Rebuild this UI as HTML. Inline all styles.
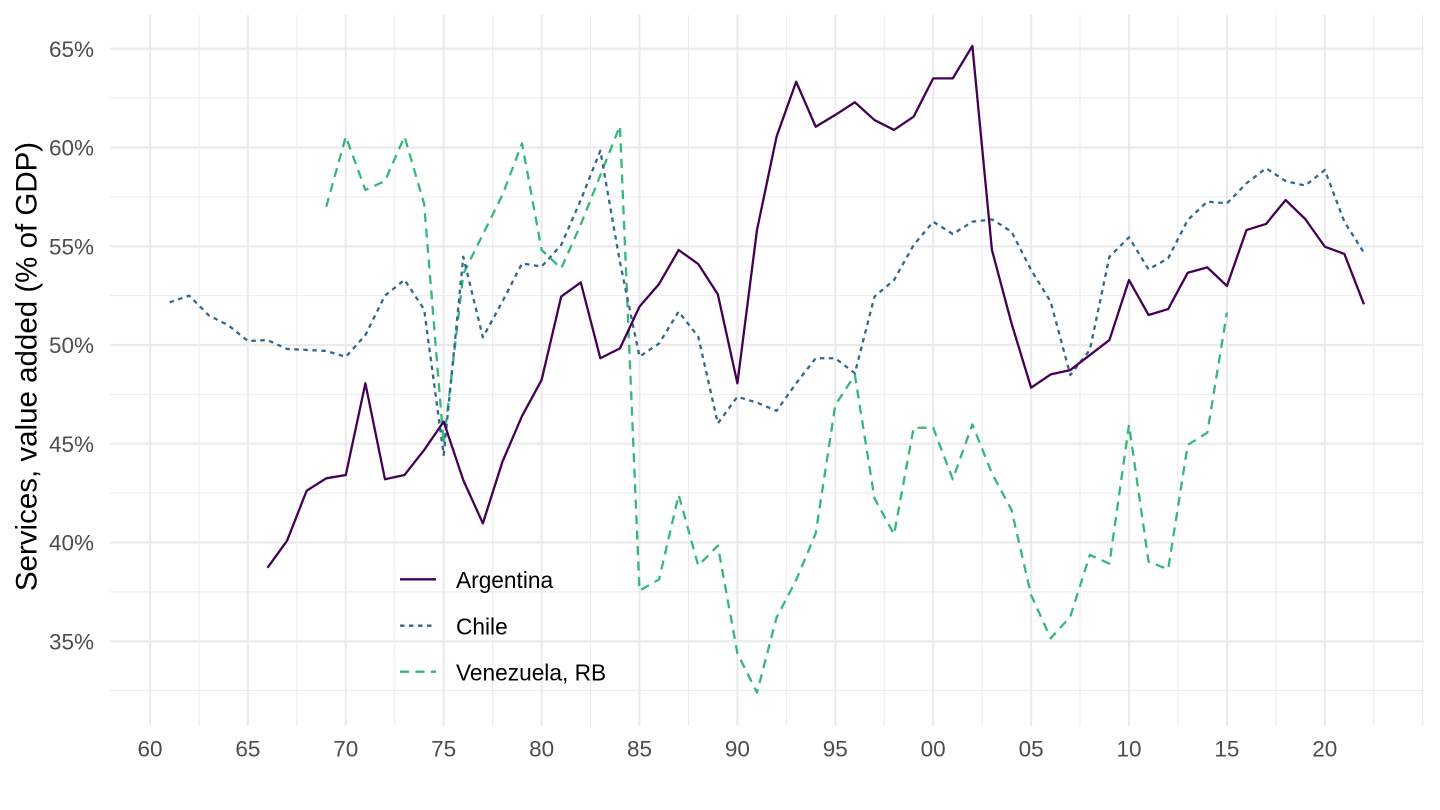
<!DOCTYPE html>
<html>
<head>
<meta charset="utf-8">
<style>
html,body{margin:0;padding:0;background:#fff;}
svg{display:block;}
text{font-family:"Liberation Sans",Arial,sans-serif;}
</style>
</head>
<body>
<svg width="1440" height="810" viewBox="0 0 1440 810" xmlns="http://www.w3.org/2000/svg">
<rect width="1440" height="810" fill="#fff"/>
<!-- minor gridlines -->
<g stroke="#EBEBEB" stroke-width="1.07" fill="none">
<line x1="110" x2="1424" y1="97.9" y2="97.9"/>
<line x1="110" x2="1424" y1="196.9" y2="196.9"/>
<line x1="110" x2="1424" y1="295.6" y2="295.6"/>
<line x1="110" x2="1424" y1="394.4" y2="394.4"/>
<line x1="110" x2="1424" y1="493.1" y2="493.1"/>
<line x1="110" x2="1424" y1="591.9" y2="591.9"/>
<line x1="110" x2="1424" y1="690.6" y2="690.6"/>
<line y1="15" y2="726" x1="198.95" x2="198.95"/>
<line y1="15" y2="726" x1="296.85" x2="296.85"/>
<line y1="15" y2="726" x1="394.75" x2="394.75"/>
<line y1="15" y2="726" x1="492.65" x2="492.65"/>
<line y1="15" y2="726" x1="590.55" x2="590.55"/>
<line y1="15" y2="726" x1="688.45" x2="688.45"/>
<line y1="15" y2="726" x1="786.35" x2="786.35"/>
<line y1="15" y2="726" x1="884.25" x2="884.25"/>
<line y1="15" y2="726" x1="982.15" x2="982.15"/>
<line y1="15" y2="726" x1="1080.05" x2="1080.05"/>
<line y1="15" y2="726" x1="1177.95" x2="1177.95"/>
<line y1="15" y2="726" x1="1275.85" x2="1275.85"/>
<line y1="15" y2="726" x1="1373.75" x2="1373.75"/>
<line y1="15" y2="726" x1="1422.7" x2="1422.7"/>
</g>
<!-- major gridlines -->
<g stroke="#EBEBEB" stroke-width="2.13" fill="none">
<line x1="110" x2="1424" y1="48.75" y2="48.75"/>
<line x1="110" x2="1424" y1="147.5" y2="147.5"/>
<line x1="110" x2="1424" y1="246.25" y2="246.25"/>
<line x1="110" x2="1424" y1="345" y2="345"/>
<line x1="110" x2="1424" y1="443.75" y2="443.75"/>
<line x1="110" x2="1424" y1="542.5" y2="542.5"/>
<line x1="110" x2="1424" y1="641.25" y2="641.25"/>
<line y1="15" y2="726" x1="150" x2="150"/>
<line y1="15" y2="726" x1="247.9" x2="247.9"/>
<line y1="15" y2="726" x1="345.8" x2="345.8"/>
<line y1="15" y2="726" x1="443.7" x2="443.7"/>
<line y1="15" y2="726" x1="541.6" x2="541.6"/>
<line y1="15" y2="726" x1="639.5" x2="639.5"/>
<line y1="15" y2="726" x1="737.4" x2="737.4"/>
<line y1="15" y2="726" x1="835.3" x2="835.3"/>
<line y1="15" y2="726" x1="933.2" x2="933.2"/>
<line y1="15" y2="726" x1="1031.1" x2="1031.1"/>
<line y1="15" y2="726" x1="1129" x2="1129"/>
<line y1="15" y2="726" x1="1226.9" x2="1226.9"/>
<line y1="15" y2="726" x1="1324.8" x2="1324.8"/>
</g>

<!-- Venezuela -->
<polyline fill="none" stroke="#35B779" stroke-width="2.3" stroke-linejoin="round" stroke-dasharray="9 6.5" points="326.22,206.75 345.80,136.64 365.38,189.96 384.96,181.07 404.54,136.64 424.12,203.79 443.70,443.75 463.28,273.9 482.86,234.4 502.44,194.9 522.02,143.35 541.60,250.0 561.18,268.37 580.76,224.52 600.34,175.15 619.92,125.97 639.50,590.69 659.08,579.43 678.66,494.9 698.24,565.61 717.82,545.66 737.40,653.3 756.98,692.6 776.56,617.55 796.14,580.02 815.72,533.41 835.30,405.04 854.88,375.02 874.46,498.26 894.04,534.4 913.62,427.75 933.20,427.75 952.78,479.3 972.36,424.4 991.94,473.37 1011.52,509.91 1031.10,595.03 1050.68,638.29 1070.26,616.76 1089.84,554.94 1109.42,563.63 1129.00,424.99 1148.58,561.66 1168.16,569.36 1187.74,444.93 1207.32,432.69 1226.90,312.61"/>

<!-- Chile -->
<polyline fill="none" stroke="#31688E" stroke-width="2.3" stroke-linejoin="round" stroke-dasharray="4.5 4.5" points="169.58,302.34 189.16,295.62 208.74,315.37 228.32,325.25 247.90,341.05 267.48,340.06 287.06,348.95 306.64,349.94 326.22,350.92 345.80,356.85 365.38,335.12 384.96,295.62 404.54,279.82 424.12,309.45 443.70,455.01 463.28,256.72 482.86,337.3 502.44,301.55 522.02,263.43 541.60,266.59 561.18,245.06 580.76,200.03 600.34,150.66 619.92,262.05 639.50,356.65 659.08,343.42 678.66,311.62 698.24,336.7 717.82,423.41 737.40,396.74 756.98,402.67 776.56,410.77 796.14,383.31 815.72,358.23 835.30,358.23 854.88,373.24 874.46,296.61 894.04,280.02 913.62,245.06 933.20,221.76 952.78,234.0 972.36,221.76 991.94,219.39 1011.52,231.63 1031.10,269.95 1050.68,301.75 1070.26,375.02 1089.84,349.94 1109.42,256.72 1129.00,237.36 1148.58,269.36 1168.16,258.3 1187.74,219.98 1207.32,201.61 1226.90,203.39 1246.48,183.25 1266.06,168.24 1285.64,181.07 1305.22,185.62 1324.80,170.01 1344.38,221.76 1363.96,252.77"/>

<!-- Argentina -->
<polyline fill="none" stroke="#440154" stroke-width="2.3" stroke-linejoin="round" points="267.48,567.78 287.06,540.72 306.64,490.75 326.22,478.31 345.80,474.95 365.38,383.31 384.96,479.3 404.54,474.95 424.12,450.07 443.70,421.63 463.28,480.09 482.86,523.34 502.44,461.72 522.02,416.1 541.60,379.96 561.18,296.61 580.76,282.39 600.34,358.23 619.92,348.36 639.50,306.68 659.08,283.97 678.66,250.0 698.24,264.02 717.82,294.24 737.40,383.31 756.98,230.05 776.56,136.64 796.14,81.73 815.72,126.76 835.30,114.91 854.88,102.27 874.46,120.05 894.04,129.92 913.62,116.69 933.20,78.37 952.78,78.37 972.36,45.98 991.94,250.0 1011.52,323.27 1031.10,387.66 1050.68,374.43 1070.26,370.08 1089.84,355.07 1109.42,340.06 1129.00,280.02 1148.58,314.98 1168.16,309.05 1187.74,272.71 1207.32,267.38 1226.90,285.95 1246.48,230.05 1266.06,223.93 1285.64,200.03 1305.22,218.99 1324.80,246.64 1344.38,253.95 1363.96,304.31"/>

<!-- y tick labels -->
<g fill="#4D4D4D" font-size="22.5" text-anchor="end">
<text x="94" y="57">65%</text>
<text x="94" y="155.5">60%</text>
<text x="94" y="254.3">55%</text>
<text x="94" y="353">50%</text>
<text x="94" y="451.8">45%</text>
<text x="94" y="550.5">40%</text>
<text x="94" y="649.3">35%</text>
</g>
<!-- x tick labels -->
<g fill="#4D4D4D" font-size="22.5" text-anchor="middle">
<text x="150" y="756.5">60</text>
<text x="247.9" y="756.5">65</text>
<text x="345.8" y="756.5">70</text>
<text x="443.7" y="756.5">75</text>
<text x="541.6" y="756.5">80</text>
<text x="639.5" y="756.5">85</text>
<text x="737.4" y="756.5">90</text>
<text x="835.3" y="756.5">95</text>
<text x="933.2" y="756.5">00</text>
<text x="1031.1" y="756.5">05</text>
<text x="1129" y="756.5">10</text>
<text x="1226.9" y="756.5">15</text>
<text x="1324.8" y="756.5">20</text>
</g>
<!-- y title -->
<text transform="translate(36.5,366.5) rotate(-90)" text-anchor="middle" font-size="29.5" fill="#000">Services, value added (% of GDP)</text>

<!-- legend -->
<line x1="400" x2="436" y1="579.3" y2="579.3" stroke="#440154" stroke-width="2.3"/>
<line x1="400" x2="436" y1="625.7" y2="625.7" stroke="#31688E" stroke-width="2.3" stroke-dasharray="4.5 4.5"/>
<line x1="400" x2="436" y1="671.7" y2="671.7" stroke="#35B779" stroke-width="2.3" stroke-dasharray="9 6.5"/>
<g fill="#000" font-size="22.7">
<text x="456" y="588">Argentina</text>
<text x="456" y="634.5">Chile</text>
<text x="456" y="680.5">Venezuela, RB</text>
</g>
</svg>
</body>
</html>
